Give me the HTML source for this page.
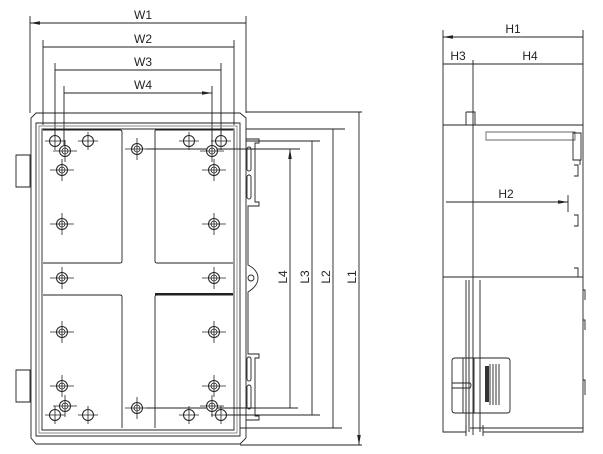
<!DOCTYPE html>
<html><head><style>body{margin:0;background:#fff}svg{display:block}text{font-family:"Liberation Sans",sans-serif;font-size:12px;fill:#222}</style></head><body>
<svg width="603" height="454" viewBox="0 0 603 454" xmlns="http://www.w3.org/2000/svg">
<defs>
<marker id="a" markerWidth="10" markerHeight="6" refX="10" refY="3" orient="auto-start-reverse" markerUnits="userSpaceOnUse"><path d="M0,1.2 L10,3 L0,4.8z" fill="#222"/></marker>
<g id="big"><circle r="5.5" fill="none" stroke="#222" stroke-width="1"/><path d="M-10,0H10M0,-9V9" stroke="#222" stroke-width="0.8"/></g>
<g id="scr"><circle r="5.5" fill="#fff" stroke="#222" stroke-width="1"/><circle r="3" fill="none" stroke="#222" stroke-width="0.8"/><path d="M-12,0H12M0,-11V11" stroke="#222" stroke-width="0.8"/></g>
</defs>
<g stroke="#222" stroke-width="0.9" fill="none">
<!-- W dims -->
<path d="M30,16V113M246,16V113M43,40V125M234,40V125M55,63V135M221,63V135M64,86V145M212,86V145"/>
<path d="M30,23H246M43,47H234M55,70H221M64,93H212" marker-start="url(#a)" marker-end="url(#a)"/>
<!-- outer body -->
<path d="M36,113H240L246,118V438L240,444H36L31,438V118Z"/>
<path d="M36,123H240V436H36Z"/>
<path d="M39,126H237V433H39Z" stroke="#888"/>
<path d="M42,129H234V430H42Z"/>
<path d="M16,155H30V187H16ZM16,370H30V402H16Z"/>
<!-- cross/quadrants -->
<path d="M43,130H120Q122,130 122,132V261Q122,263 120,263H43M155,130H233M155,130V261Q155,263 157,263H233M43,295H120Q122,295 122,297V428M155,428V297Q155,295 157,295H233"/>
<path d="M155,294H233" stroke-width="2"/>
<!-- rail -->
<path d="M246,139H259V143H255V202H259V206H248V265Q258,270 258,278Q258,286 248,292V354H259V358H255V416H259V420H246"/>
<rect x="247" y="147" width="4" height="24" rx="2"/><rect x="247" y="175" width="4" height="24" rx="2"/>
<rect x="247" y="357" width="4" height="24" rx="2"/><rect x="247" y="385" width="4" height="24" rx="2"/>
<circle cx="251" cy="278" r="3"/>
<!-- L dims -->
<path d="M246,112H362M246,129H345M246,141H320M146,149H300M146,408H298M225,415H320M240,428H342M240,445H362"/>
<path d="M290,149V408M312,141V415M333,129V428M359,112V445" marker-start="url(#a)" marker-end="url(#a)"/>
<!-- side view -->
<path d="M443,30V125M583,30V125M473,60V435"/>
<path d="M443,37H583M443,64H473M473,64H583M446,202H568" marker-start="url(#a)" marker-end="url(#a)"/>
<path d="M568,195V212"/>
<path d="M443,125H583M443,125V432H466M443,277H583M583,125V432H483M466,425V436M483,425V436"/>
<path d="M466,280V432M469,280V432M480,280V432"/>
<path d="M486,132H575V140H486ZM486,140H575" stroke="#666"/>
<path d="M466,112H475V125M466,112V125"/>
<path d="M573,133H581V160H573ZM575,160H580V165M574,165H578V176H574M574,215H578V226H574M574,268H578V277H574M583,290H585V300M583,320H585V330M583,380H585V395"/>
<path d="M455,358H507Q510,358 510,361V410Q510,413 507,413H455Q452,413 452,410V361Q452,358 455,358Z"/>
<path d="M463,358V413M474,358V413M452,383H470Q472,385 470,388H452M490,364V405M493,364V405M496,364V405M499,364V405M470,428H583"/>
</g>
<rect x="485" y="366" width="4" height="36" fill="#333"/>
<!-- holes -->
<use href="#big" x="55" y="141"/><use href="#big" x="88" y="141"/><use href="#big" x="189" y="141"/><use href="#big" x="221" y="141"/>
<use href="#big" x="55" y="415"/><use href="#big" x="88" y="415"/><use href="#big" x="189" y="415"/><use href="#big" x="221" y="415"/>
<use href="#scr" x="65" y="151"/><use href="#scr" x="62" y="170"/><use href="#scr" x="62" y="224"/><use href="#scr" x="62" y="278"/><use href="#scr" x="62" y="332"/><use href="#scr" x="62" y="386"/><use href="#scr" x="65" y="406"/>
<use href="#scr" x="212" y="151"/><use href="#scr" x="214" y="170"/><use href="#scr" x="214" y="224"/><use href="#scr" x="214" y="278"/><use href="#scr" x="214" y="332"/><use href="#scr" x="214" y="386"/><use href="#scr" x="212" y="406"/>
<use href="#scr" x="137" y="149"/><use href="#scr" x="137" y="408"/>
<!-- labels -->
<text x="143" y="19" text-anchor="middle">W1</text>
<text x="143" y="43" text-anchor="middle">W2</text>
<text x="143" y="66" text-anchor="middle">W3</text>
<text x="143" y="89" text-anchor="middle">W4</text>
<text x="513" y="33" text-anchor="middle">H1</text>
<text x="458" y="60" text-anchor="middle">H3</text>
<text x="530" y="60" text-anchor="middle">H4</text>
<text x="506" y="198" text-anchor="middle">H2</text>
<text transform="translate(287,277) rotate(-90)" text-anchor="middle">L4</text>
<text transform="translate(309,277) rotate(-90)" text-anchor="middle">L3</text>
<text transform="translate(330,277) rotate(-90)" text-anchor="middle">L2</text>
<text transform="translate(356,277) rotate(-90)" text-anchor="middle">L1</text>
</svg>
</body></html>
